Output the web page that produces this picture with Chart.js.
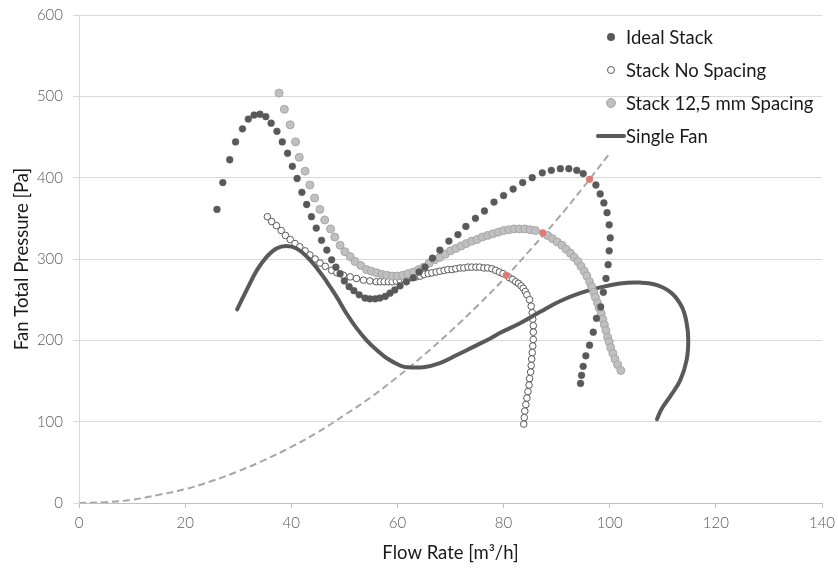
<!DOCTYPE html>
<html>
<head>
<meta charset="utf-8">
<script src="https://cdn.jsdelivr.net/npm/chart.js@4.4.1/dist/chart.umd.min.js"></script>
<style>
  body { margin: 0; background: #fff; }
  #wrap { position: relative; width: 838px; height: 568px; font-family: Lato, "Open Sans", sans-serif; }
  #legend { position: absolute; left: 590px; top: 20px; color: #1a1a1a; font-size: 18.5px; }
  .row { position: absolute; left: 0; height: 20px; line-height: 20px; white-space: nowrap; }
  .row span.t { position: absolute; left: 36px; top: 0; }
  .mk { position: absolute; box-sizing: border-box; border-radius: 50%; }
</style>
</head>
<body>
<div id="wrap">
  <canvas id="chart"></canvas>
  <div id="legend">
    <div class="row" style="top:7px"><div class="mk" style="left:17px;top:6px;width:8px;height:8px;background:#595959"></div><span class="t">Ideal Stack</span></div>
    <div class="row" style="top:40px"><div class="mk" style="left:17px;top:6px;width:8px;height:8px;background:#fff;border:1px solid #595959"></div><span class="t">Stack No Spacing</span></div>
    <div class="row" style="top:73px"><div class="mk" style="left:16px;top:5px;width:10px;height:10px;background:#c0c0c0;border:1px solid #a6a6a6"></div><span class="t">Stack 12,5 mm Spacing</span></div>
    <div class="row" style="top:106px"><div style="position:absolute;left:6px;top:8px;width:30px;height:4px;background:#595959;border-radius:2px"></div><span class="t">Single Fan</span></div>
  </div>
</div>
<script>
// tick values
const xTicks = [0, 20, 40, 60, 80, 100, 120, 140];
const yTicks = [0, 100, 200, 300, 400, 500, 600];

// [flow m3/h, pressure Pa]
const idealStack = [
  [26.0,361],[27.1,394],[28.4,422],[29.5,444],[30.8,460],[31.9,472],[33.0,477],[34.1,478],[35.2,475],
  [36.2,467],[37.3,457],[38.3,444],[39.3,430],[40.2,414],[41.1,399],[42.0,382],[42.9,367],[43.8,352],
  [44.7,338],[45.7,323],[46.7,311],[47.6,299],[48.4,290],[49.2,282],[50.0,273],[50.9,266],[51.8,261],
  [52.8,256],[53.9,252],[54.8,251],[55.8,251],[56.7,252],[57.7,254],[58.6,258],[59.5,262],[60.5,267],
  [61.7,272],[63.0,277],[64.1,284],[65.2,290],[66.6,301],[68.0,311],[69.7,322],[71.4,330],[72.9,340],
  [74.7,350],[76.4,359],[78.2,370],[80.0,378],[81.8,386],[83.6,394],[85.4,400],[87.3,406],[89.0,409],
  [90.7,411],[92.3,411],[93.8,409],[95.0,405],[97.4,391],[98.2,380],[98.9,369],[99.5,357],
  [99.9,342],[100.1,326],[99.9,310],[99.7,293],[99.3,276],[98.8,259],[98.3,241],[97.5,227],[96.9,210],
  [96.2,194],[95.5,181],[95.0,168],[94.7,157],[94.5,147]
];

const stackNoSpacing = [
  [35.5,352],[36.3,346],[37.2,341],[38.1,335],[38.9,329],[39.8,324],[40.7,319],[41.6,315],[42.6,310],
  [43.5,305],[44.5,300],[45.4,295],[46.4,291],[47.6,286],[48.6,283],[49.8,280],[51.1,278],[52.3,276],
  [53.6,274],[54.8,273],[56.0,272],[56.8,272],[57.5,272],[58.3,272],[59.0,272],[59.8,273],[60.5,274],
  [61.3,275],[62.0,276],[62.8,277],[63.5,278],[64.3,279],[65.0,281],[65.8,282],[66.5,283],[67.3,284],
  [68.0,285],[68.8,286],[69.5,287],[70.3,287],[71.0,288],[71.8,289],[72.5,289],[73.3,290],[74.0,290],
  [74.8,290],[75.5,290],[76.3,289],[77.0,289],[77.8,288],[78.5,286],[79.2,284],[79.9,282],
  [81.1,277],[81.7,275],[82.3,272],[82.8,270],[83.3,267],[83.7,264],[84.1,260],[84.4,256],[84.9,250],
  [85.2,242],[85.4,234],[85.5,226],[85.6,218],[85.6,210],[85.6,201],[85.5,193],[85.4,185],[85.3,177],
  [85.2,169],[85.1,161],[84.9,153],[84.8,145],[84.6,137],[84.4,129],[84.2,121],[84.0,113],[83.9,105],
  [83.8,97]
];

const stack125 = [
  [37.7,504],[38.7,484],[39.8,465],[40.8,444],[41.5,425],[42.6,408],[43.5,391],[44.4,375],[45.4,361],
  [46.3,348],[47.4,337],[48.2,327],[49.2,317],[50.1,309],[51.1,303],[52.0,297],[53.1,292],[54.2,287],
  [55.1,285],[56.1,283],[57.1,281],[58.0,280],[59.0,279],[60.0,279],[61.0,280],[62.0,282],[63.0,284],
  [64.0,287],[65.0,290],[66.0,295],[67.0,299],[68.0,302],[69.0,306],[70.0,310],[71.0,313],[72.0,316],
  [73.0,319],[74.0,322],[75.0,324],[76.0,327],[77.0,329],[78.0,331],[79.0,333],[80.0,335],[81.0,336],
  [82.0,337],[83.0,337],[84.0,337],[85.0,336],[86.0,335],[88.3,329],[89.2,325],[90.1,321],
  [91.0,317],[91.8,312],[92.6,307],[93.3,302],[94.0,297],[94.6,291],[95.2,285],[95.7,279],[96.2,272],
  [96.6,266],[97.0,259],[97.3,253],[97.7,246],[98.0,240],[98.4,233],[98.7,226],[99.0,219],[99.3,212],
  [99.6,204],[99.9,198],[100.2,191],[100.6,184],[101.0,177],[101.5,170],[102.1,163]
];

const singleFan = [
  [29.8,238],[31.6,262],[33.5,286],[35.4,303],[37.2,313],[39.1,316],[41.0,313],[42.9,303],[44.8,289],
  [46.7,272],[48.5,254],[50.4,233],[52.3,215],[54.2,200],[56.1,188],[58.0,178],[60.5,169],[61.7,167],
  [64.9,167],[68.0,172],[71.2,182],[74.3,192],[77.4,202],[79.3,209],[83.1,221],[86.9,235],[90.6,248],
  [94.4,258],[98.2,265],[101.9,270],[105.7,271],[108.9,268],[111.7,258],[113.6,241],[114.5,221],
  [114.8,200],[114.5,176],[113.3,151],[111.4,131],[109.8,116],[108.9,103]
];

const systemCurve = [
  [0,0],[5,1],[10,4],[15,10],[20,17],[25,27],[30,39],[35,53],[40,69],[45,87],[50,108],[55,130],
  [60,155],[65,182],[70,211],[75,242],[80,275],[85,311],[90,348],[95,388],[100,430]
];

const operatingPoints = [[96.2,398],[87.4,332],[80.5,280]];

const toXY = arr => arr.map(p => ({ x: p[0], y: p[1] }));

new Chart(document.getElementById('chart'), {
  type: 'scatter',
  data: {
    datasets: [
      {
        label: 'Operating Points',
        data: toXY(operatingPoints),
        pointRadius: 3.6,
        pointBorderWidth: 0,
        backgroundColor: '#e07a72'
      },
      {
        label: 'Ideal Stack',
        data: toXY(idealStack),
        pointRadius: 3.4,
        pointBorderWidth: 0.5,
        borderColor: '#595959',
        backgroundColor: '#595959'
      },
      {
        label: 'Stack 12,5 mm Spacing',
        data: toXY(stack125),
        pointRadius: 4,
        pointBorderWidth: 1,
        borderColor: '#a6a6a6',
        backgroundColor: '#c0c0c0'
      },
      {
        label: 'Single Fan',
        data: toXY(singleFan),
        showLine: true,
        tension: 0.4,
        pointRadius: 0,
        borderWidth: 4,
        borderColor: '#595959',
        borderCapStyle: 'round',
        borderJoinStyle: 'round'
      },
      {
        label: 'Stack No Spacing',
        data: toXY(stackNoSpacing),
        pointRadius: 3.3,
        pointBorderWidth: 1,
        borderColor: '#595959',
        backgroundColor: '#ffffff'
      },
      {
        label: 'System',
        data: toXY(systemCurve),
        showLine: true,
        tension: 0.4,
        pointRadius: 0,
        borderWidth: 2,
        borderColor: '#a6a6a6',
        borderDash: [7, 4]
      }
    ]
  },
  options: {
    responsive: true,
    maintainAspectRatio: false,
    animation: false,
    layout: { padding: { top: 15, right: 16, left: 0, bottom: 0 } },
    plugins: {
      legend: { display: false },
      tooltip: { enabled: false }
    },
    scales: {
      x: {
        min: 0,
        max: 140,
        afterBuildTicks: s => { s.ticks = xTicks.map(v => ({ value: v })); },
        afterFit: s => { s.height = 65; s.paddingLeft = 0; s.paddingRight = 0; },
        grid: { drawOnChartArea: false, drawTicks: true, tickLength: 5, color: '#bfbfbf' },
        border: { color: '#bfbfbf' },
        ticks: { color: '#595959', padding: 6, font: { family: 'Lato', size: 15, weight: 300 } },
        title: {
          display: true,
          text: 'Flow Rate [m³/h]',
          color: '#1a1a1a',
          padding: { top: 4, bottom: 4 },
          font: { family: 'Lato', size: 18.5 }
        }
      },
      y: {
        min: 0,
        max: 600,
        afterBuildTicks: s => { s.ticks = yTicks.map(v => ({ value: v })); },
        afterFit: s => { s.width = 79; s.paddingTop = 0; s.paddingBottom = 0; },
        grid: { color: '#d9d9d9', drawTicks: true, tickLength: 6 },
        border: { color: '#d9d9d9' },
        ticks: { color: '#595959', padding: 10, font: { family: 'Lato', size: 15, weight: 300 } },
        title: {
          display: true,
          text: 'Fan Total Pressure [Pa]',
          color: '#1a1a1a',
          padding: { top: 11, bottom: 4 },
          font: { family: 'Lato', size: 18.5 }
        }
      }
    }
  }
});
</script>
</body>
</html>
